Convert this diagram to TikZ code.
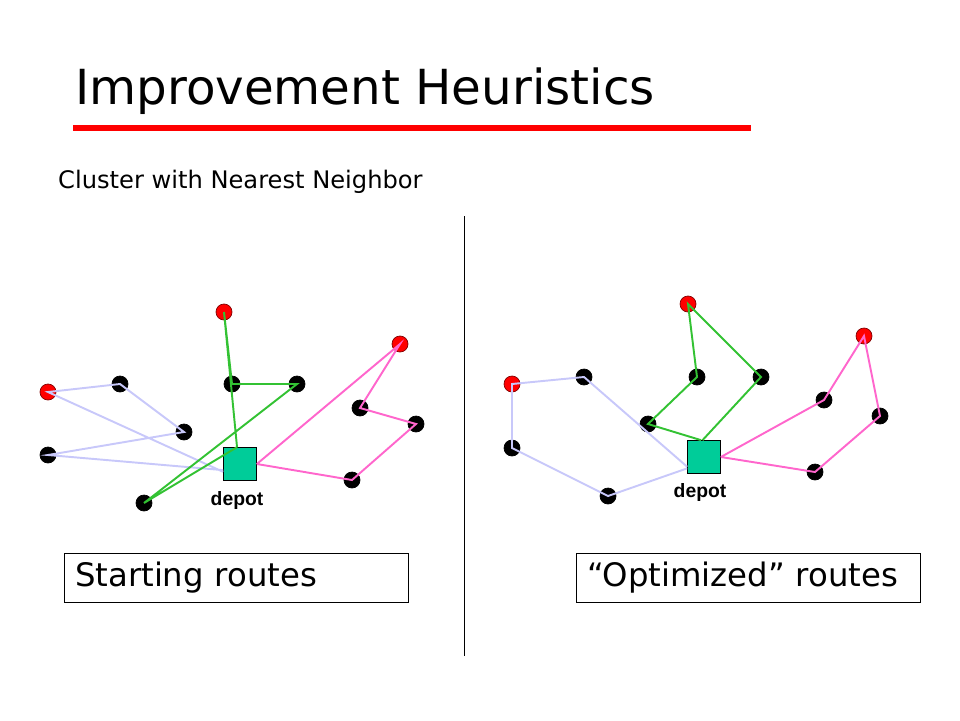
\documentclass[tikz,border=0pt]{standalone}
\usepackage{fontspec}
\setmainfont{DejaVu Sans}
\newfontfamily\labelfont{Liberation Sans}
\definecolor{lav}{RGB}{200,200,250}
\definecolor{grn}{RGB}{51,194,51}
\definecolor{pnk}{RGB}{255,102,204}
\definecolor{depotgreen}{RGB}{0,204,153}
\begin{document}
\begin{tikzpicture}
        [x=0.02cm, y=-0.02cm,
        cust/.style={circle,draw=black,fill=black,minimum size=0.32cm,inner sep=0pt},
        custRed/.style={circle,draw=red!50!black,fill=red,minimum size=0.32cm,inner sep=0pt},
        depot/.style={rectangle,draw=black,fill=depotgreen,minimum size=0.66cm,inner sep=0pt},
        lbl/.style={font=\labelfont\fontsize{11}{13}\selectfont\bfseries},
        routebox/.style={rectangle,draw=black,thin,minimum width=6.88cm,minimum height=0.98cm,text width=6.44cm,align=left,inner xsep=0.22cm,font=\fontsize{18.4}{21}\selectfont},
        lavL/.style={draw=lav, line width=1.1pt},
        grnL/.style={draw=grn, line width=1.1pt},
        pnkL/.style={draw=pnk, line width=1.1pt}]
        \useasboundingbox (0,0) rectangle (960,720);

        \node[anchor=base west, font=\fontsize{27.5}{32}\selectfont] (title) at (69,104) {Improvement Heuristics};
        \coordinate (ulA) at (73,128);
        \coordinate (ulB) at (751,128);
        \draw[red, line width=3.4pt] (ulA) -- (ulB);
        \node[anchor=base west, font=\fontsize{13.75}{16}\selectfont] (sub) at (52,188) {Cluster with Nearest Neighbor};

        \coordinate (sepA) at (464,216);
        \coordinate (sepB) at (464,656);
        \draw[black, thin] (sepA) -- (sepB);

        % starting routes
        \node[depot] (LD) at (240,464) {};
        \node[lbl] (LDl) at (237,500) {depot};
        \node[custRed] (L1) at (224,312) {};
        \node[custRed] (L2) at (400,344) {};
        \node[custRed] (L3) at (48,392) {};
        \node[cust] (L4) at (120,384) {};
        \node[cust] (L5) at (232,384) {};
        \node[cust] (L6) at (297,384) {};
        \node[cust] (L7) at (360,408) {};
        \node[cust] (L8) at (416,424) {};
        \node[cust] (L9) at (184,432) {};
        \node[cust] (L10) at (48,455) {};
        \node[cust] (L11) at (352,480) {};
        \node[cust] (L12) at (144,503) {};

        \draw[lavL] (LD.200) -- (L10.center) -- (L9.center) -- (L4.center) -- (L3.center) -- (LD.205);
        \draw[grnL] (LD.100) -- (L1.center) -- (L5.center) -- (L6.center) -- (L12.center) -- (LD.100);
        \draw[pnkL] (LD.east) -- (L2.center) -- (L7.center) -- (L8.center) -- (L11.center) -- (LD.east);

        % optimized routes
        \node[depot] (RD) at (704,457) {};
        \node[lbl] (RDl) at (700,492) {depot};
        \node[custRed] (R1) at (688,304) {};
        \node[custRed] (R2) at (864,336) {};
        \node[custRed] (R3) at (512,384) {};
        \node[cust] (R4) at (584,377) {};
        \node[cust] (R5) at (697,377) {};
        \node[cust] (R6) at (761,377) {};
        \node[cust] (R7) at (648,424) {};
        \node[cust] (R8) at (824,400) {};
        \node[cust] (R9) at (880,416) {};
        \node[cust] (R10) at (512,448) {};
        \node[cust] (R11) at (815,472) {};
        \node[cust] (R12) at (608,496) {};

        \draw[lavL] (RD.214) -- (R12.center) -- (R10.center) -- (R3.center) -- (R4.center) -- (RD.210);
        \draw[grnL] (RD.100) -- (R7.center) -- (R5.center) -- (R1.center) -- (R6.center) -- (RD.95);
        \draw[pnkL] (RD.east) -- (R8.center) -- (R2.center) -- (R9.center) -- (R11.center) -- (RD.east);

        \node[routebox] (SR) at (236,577.5) {Starting routes};
        \node[routebox] (OR) at (748,577.5) {“Optimized” routes};
    \end{tikzpicture}
\end{document}
